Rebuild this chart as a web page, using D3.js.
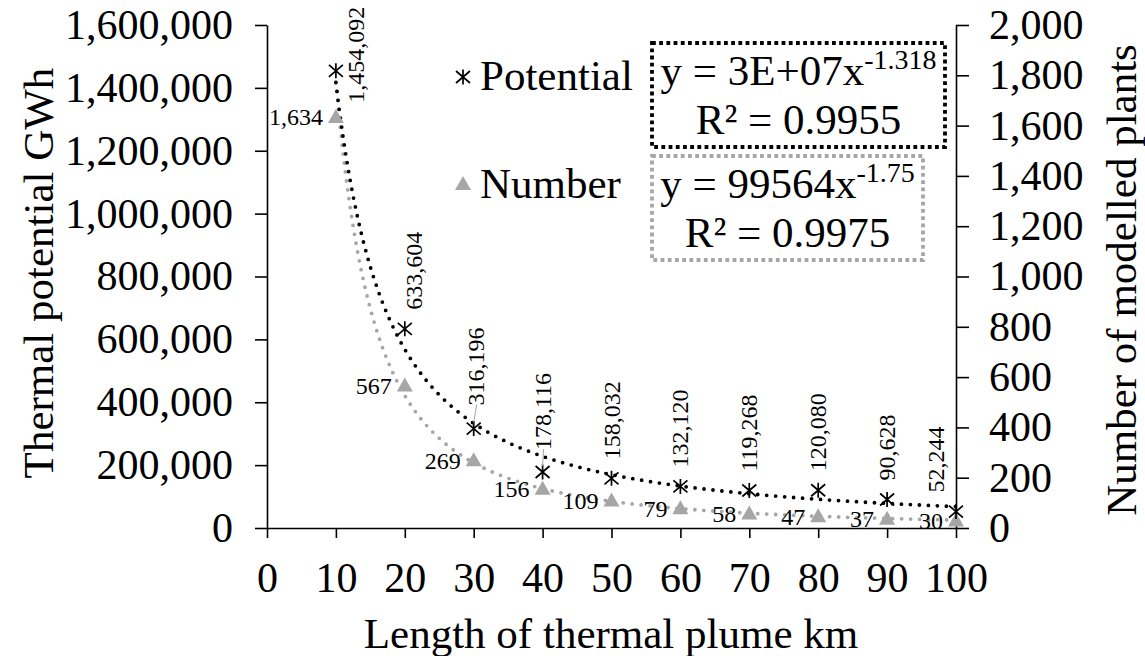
<!DOCTYPE html>
<html lang="en">
<head>
<meta charset="UTF-8">
<script src="https://d3js.org/d3.v7.min.js"></script>
<title>Thermal potential vs plume length</title>
<style>
    body{margin:0;background:#fff;}
    svg{display:block;font-family:"Liberation Serif","Times New Roman",serif;}
    .axis path,.axis line{stroke:#000;stroke-width:1.6;}
    .axis text{font-size:42px;fill:#000;font-family:"Liberation Serif",serif;}
    .big{font-size:43px;fill:#000;}
    .lab{font-size:24px;fill:#000;}
</style>
</head>
<body>
<svg width="1145" height="656"></svg>
<script>
// chart data
const plumeKm = [10, 20, 30, 40, 50, 60, 70, 80, 90, 100]
const potentialGWh = [1454092, 633604, 316196, 178116, 158032, 132120, 119268, 120080, 90628, 52244]
const plantCount = [1634, 567, 269, 156, 109, 79, 58, 47, 37, 30]
const xTicks = [0, 10, 20, 30, 40, 50, 60, 70, 80, 90, 100]
const leftTicks = [0, 200000, 400000, 600000, 800000, 1000000, 1200000, 1400000, 1600000]
const rightTicks = [0, 200, 400, 600, 800, 1000, 1200, 1400, 1600, 1800, 2000]
const eqPotential = ["y = 3E+07x", "-1.318", "R² = 0.9955"]
const eqNumber = ["y = 99564x", "-1.75", "R² = 0.9975"]

const grey = "#a6a6a6"
let svg = d3.select("svg")

let x = d3.scaleLinear().domain([0, 100]).range([267, 956])
let yL = d3.scaleLinear().domain([0, 1600000]).range([528, 25])
let yR = d3.scaleLinear().domain([0, 2000]).range([528, 25])
let fmt = d3.format(",")

// axes
svg.append("g").attr("class", "axis")
    .attr("transform", "translate(0,528)")
    .call(d3.axisBottom(x).tickValues(xTicks).tickSize(10).tickSizeOuter(0).tickPadding(24))
svg.append("g").attr("class", "axis")
    .attr("transform", "translate(267,0)")
    .call(d3.axisLeft(yL).tickValues(leftTicks).tickSize(12).tickSizeOuter(0).tickPadding(22).tickFormat(fmt))
svg.append("g").attr("class", "axis")
    .attr("transform", "translate(956,0)")
    .call(d3.axisRight(yR).tickValues(rightTicks).tickSize(13).tickSizeOuter(0).tickPadding(20).tickFormat(fmt))

// axis titles
svg.append("text").attr("class", "big").attr("text-anchor", "middle")
    .attr("x", 611).attr("y", 648).text("Length of thermal plume km")
svg.append("text").attr("class", "big").attr("text-anchor", "middle")
    .attr("transform", "translate(53,273) rotate(-90)").text("Thermal potential GWh")
svg.append("text").attr("class", "big").attr("text-anchor", "middle")
    .attr("transform", "translate(1136,280) rotate(-90)").text("Number of modelled plants")

// power trendline fitted in log-log space
function powerFit(xs, ys) {
    let lx = xs.map(Math.log), ly = ys.map(Math.log)
    let mx = d3.mean(lx), my = d3.mean(ly)
    let b = d3.sum(lx, (v, i) => (v - mx) * (ly[i] - my)) / d3.sum(lx, v => (v - mx) * (v - mx))
    let a = Math.exp(my - b * mx)
    return t => a * Math.pow(t, b)
}
let fitP = powerFit(plumeKm, potentialGWh)
let fitN = powerFit(plumeKm, plantCount)
let ts = d3.range(10, 100.001, 0.5)

svg.append("path").datum(ts)
    .attr("d", d3.line().x(t => x(t)).y(t => yR(fitN(t))))
    .attr("fill", "none").attr("stroke", grey).attr("stroke-width", 3.8)
    .attr("stroke-linecap", "round").attr("stroke-dasharray", "0 9")
svg.append("path").datum(ts)
    .attr("d", d3.line().x(t => x(t)).y(t => yL(fitP(t))))
    .attr("fill", "none").attr("stroke", "#000").attr("stroke-width", 3.8)
    .attr("stroke-linecap", "round").attr("stroke-dasharray", "0 9")

// markers
const starPath = "M-7,-6L7,6M-7,6L7,-6M0,-7.5L0,7.5"
const triPath = "M0,-8L8,6L-8,6Z"

svg.selectAll(".tri").data(plantCount).enter().append("path")
    .attr("class", "tri")
    .attr("d", triPath)
    .attr("fill", grey)
    .attr("transform", (d, i) => "translate(" + x(plumeKm[i]) + "," + yR(d) + ")")

svg.selectAll(".star").data(potentialGWh).enter().append("path")
    .attr("class", "star")
    .attr("d", starPath)
    .attr("fill", "none").attr("stroke", "#000").attr("stroke-width", 1.7)
    .attr("transform", (d, i) => "translate(" + x(plumeKm[i]) + "," + yL(d) + ")")

// data labels: number to the left of the triangle
svg.selectAll(".nlab").data(plantCount).enter().append("text")
    .attr("class", "lab")
    .attr("text-anchor", "end")
    .attr("x", (d, i) => x(plumeKm[i]) - 13)
    .attr("y", (d, i) => yR(d))
    .attr("dy", "0.35em")
    .text(fmt)

// potential labels rotated above the star, a few nudged like the original
const nudge = {0: [20, 51], 1: [9, 0], 2: [2, -4], 3: [0, -3], 9: [-20, 0]}
const leaders = [2, 3]
svg.selectAll(".lead").data(leaders).enter().append("line")
    .attr("x1", i => x(plumeKm[i])).attr("y1", i => yL(potentialGWh[i]) - 6)
    .attr("x2", i => x(plumeKm[i]) + nudge[i][0] + 1).attr("y2", i => yL(potentialGWh[i]) - 20 + nudge[i][1])
    .attr("stroke", grey).attr("stroke-width", 1)
svg.selectAll(".plab").data(potentialGWh).enter().append("text")
    .attr("class", "lab")
    .attr("transform", (d, i) => {
        let n = nudge[i] || [0, 0]
        let px = x(plumeKm[i]) + 8 + n[0]
        let py = yL(d) - 19 + n[1]
        return "translate(" + px + "," + py + ") rotate(-90)"
    })
    .text(fmt)

// legend
let lg = svg.append("g")
lg.append("path").attr("d", starPath).attr("fill", "none").attr("stroke", "#000").attr("stroke-width", 1.7)
    .attr("transform", "translate(463,77)")
lg.append("text").attr("class", "big").attr("x", 480).attr("y", 90).text("Potential")
lg.append("path").attr("d", triPath).attr("fill", grey)
    .attr("transform", "translate(463,184)")
lg.append("text").attr("class", "big").attr("x", 480).attr("y", 198).text("Number")

// trendline equation boxes
function eqBox(x0, y0, w, h, color, eq) {
    let g = svg.append("g")
    g.append("rect").attr("x", x0).attr("y", y0).attr("width", w).attr("height", h)
        .attr("fill", "none").attr("stroke", color).attr("stroke-width", 3.8)
        .attr("stroke-dasharray", "3.8 3.4")
    let t = g.append("text").attr("class", "big").attr("text-anchor", "middle")
        .attr("x", x0 + w / 2).attr("y", y0 + 42)
    t.append("tspan").text(eq[0])
    t.append("tspan").attr("dy", -16).attr("font-size", 28).text(eq[1])
    g.append("text").attr("class", "big").attr("text-anchor", "middle")
        .attr("x", x0 + w / 2).attr("y", y0 + 91).text(eq[2])
}
eqBox(652, 43, 293, 104, "#000", eqPotential)
eqBox(652, 156, 271, 104, grey, eqNumber)
</script>
</body>
</html>
